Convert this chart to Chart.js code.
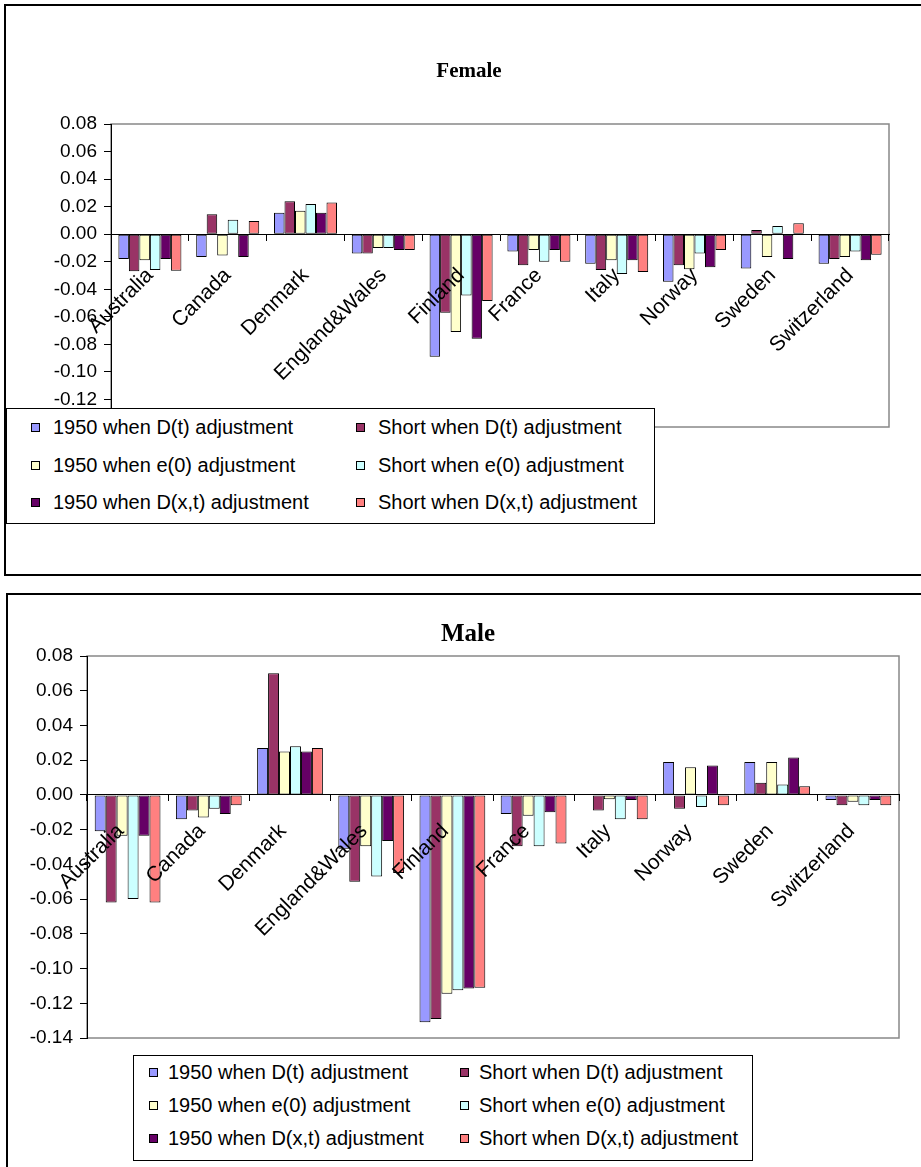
<!DOCTYPE html>
<html>
<head>
<meta charset="utf-8">
<script src="https://cdn.jsdelivr.net/npm/chart.js@4/dist/chart.umd.min.js"></script>
<style>
    body { margin: 0; background: #fff; width: 921px; height: 1167px; overflow: hidden; position: relative; font-family: "Liberation Sans", Arial, sans-serif; }
    .marco { position: absolute; border: 2px solid #000; box-sizing: border-box; }
    canvas { position: absolute; left: 0; }
    .titulo { position: absolute; transform: translate(-50%, -50%); font-family: "Liberation Serif", "Times New Roman", serif; font-weight: bold; line-height: 1; white-space: nowrap; color: #000; }
    .leyenda { position: absolute; border: 1px solid #000; background: #fff; box-sizing: border-box; font-size: 20px; color: #000; }
    .leyenda .item { position: absolute; white-space: nowrap; display: flex; align-items: center; }
    .leyenda .caja { display: inline-block; box-sizing: border-box; width: 9px; height: 9px; border: 1px solid #000; }
</style>
</head>
<body>
<div class="marco" style="left:4px; top:4px; width:1000px; height:572px;"></div>
<div class="marco" style="left:6px; top:593px; width:1000px; height:1000px;"></div>
<canvas id="grafica-female" width="921" height="580" style="top:0px;"></canvas>
<canvas id="grafica-male" width="921" height="577" style="top:590px;"></canvas>
<div class="titulo" id="titulo-female" style="left:469px; top:70px; font-size:21px;"></div>
<div class="titulo" id="titulo-male" style="left:468px; top:632px; font-size:25px;"></div>
<div class="leyenda" id="leyenda-female" style="left:6px; top:408px; width:649px; height:116px;"></div>
<div class="leyenda" id="leyenda-male" style="left:133px; top:1055px; width:620px; height:106px;"></div>
<script>
const countries = ["Australia", "Canada", "Denmark", "England&Wales", "Finland", "France", "Italy", "Norway", "Sweden", "Switzerland"];
const seriesNames = [
    "1950 when D(t) adjustment",
    "Short when D(t) adjustment",
    "1950 when e(0) adjustment",
    "Short when e(0) adjustment",
    "1950 when D(x,t) adjustment",
    "Short when D(x,t) adjustment",
];
const seriesColors = ["#9999FF", "#993366", "#FFFFCC", "#CCFFFF", "#660066", "#FF8080"];
const yMin = -0.14;
const yMax = 0.08;
const yStep = 0.02;

// Female
const female1950Dt = [-0.018, -0.0165, 0.0155, -0.014, -0.089, -0.0125, -0.0215, -0.0345, -0.025, -0.0215];
const femaleShortDt = [-0.027, 0.0145, 0.024, -0.014, -0.057, -0.0225, -0.026, -0.0225, 0.003, -0.018];
const female1950e0 = [-0.019, -0.0155, 0.017, -0.010, -0.071, -0.0115, -0.019, -0.0255, -0.0165, -0.0165];
const femaleShortE0 = [-0.026, 0.0105, 0.022, -0.010, -0.0445, -0.020, -0.029, -0.014, 0.006, -0.0125];
const female1950Dxt = [-0.018, -0.0165, 0.0155, -0.0115, -0.076, -0.0115, -0.019, -0.024, -0.018, -0.019];
const femaleShortDxt = [-0.0265, 0.0095, 0.023, -0.0115, -0.0485, -0.020, -0.0275, -0.0115, 0.008, -0.015];

// Male
const male1950Dt = [-0.021, -0.014, 0.027, -0.031, -0.131, -0.011, -0.0004, 0.019, 0.019, -0.003];
const maleShortDt = [-0.062, -0.009, 0.070, -0.050, -0.129, -0.0295, -0.009, -0.008, 0.007, -0.006];
const male1950e0 = [-0.0235, -0.013, 0.025, -0.0295, -0.1145, -0.012, -0.0025, 0.016, 0.019, -0.004];
const maleShortE0 = [-0.060, -0.008, 0.028, -0.047, -0.1125, -0.0295, -0.014, -0.007, 0.006, -0.006];
const male1950Dxt = [-0.0235, -0.011, 0.025, -0.0265, -0.1115, -0.010, -0.003, 0.017, 0.0215, -0.003];
const maleShortDxt = [-0.062, -0.006, 0.027, -0.045, -0.111, -0.028, -0.014, -0.006, 0.005, -0.006];

const fuente = "'Liberation Sans', Arial, sans-serif";

// gray frame of the plot area, under the axes
const bordeArea = {
    id: "bordeArea",
    beforeDraw(chart) {
        const { ctx, chartArea: a } = chart;
        ctx.save();
        ctx.strokeStyle = "#888888";
        ctx.lineWidth = 1.5;
        ctx.strokeRect(a.left, a.top, a.right - a.left, a.bottom - a.top);
        ctx.restore();
    },
};

function graficaBarras(id, titulo, series, cfg) {
    document.getElementById("titulo-" + id.split("-")[1]).textContent = titulo;

    const datasets = series.map((valores, i) => ({
        label: seriesNames[i],
        data: valores,
        backgroundColor: seriesColors[i],
        borderColor: "#000",
        borderWidth: 1,
        borderSkipped: false,
        categoryPercentage: 0.81,
        barPercentage: 1.0,
    }));

    const ctx = document.getElementById(id);
    const grafica = new Chart(ctx, {
        type: "bar",
        data: { labels: countries, datasets: datasets },
        plugins: [bordeArea],
        options: {
            responsive: false,
            animation: false,
            layout: { padding: cfg.padding },
            plugins: {
                legend: { display: false },
                tooltip: { enabled: false },
                title: { display: false },
            },
            scales: {
                x: {
                    position: { y: 0 },
                    grid: { drawOnChartArea: false, color: "#000", tickLength: 6 },
                    border: { color: "#000", width: 1 },
                    ticks: {
                        z: 1, // category names sit over the bars
                        color: "#000",
                        font: { family: fuente, size: 21 },
                        minRotation: 45,
                        maxRotation: 45,
                        autoSkip: false,
                        padding: cfg.xPadding,
                        labelOffset: cfg.xOffset,
                    },
                },
                y: {
                    min: yMin,
                    max: yMax,
                    grid: { drawOnChartArea: false, color: "#000", tickLength: 7 },
                    border: { color: "#000", width: 1 },
                    ticks: {
                        stepSize: yStep,
                        color: "#000",
                        font: { family: fuente, size: 19 },
                        padding: 7,
                        callback: (v) => Number(v).toFixed(2),
                    },
                    afterFit(scale) {
                        scale.width = cfg.ejeAncho;
                    },
                },
            },
        },
    });

    return grafica;
}

function leyenda(id, cfg) {
    const caja = document.getElementById(id);
    seriesNames.forEach((nombre, i) => {
        const fila = Math.floor(i / 2);
        const col = i % 2;
        const item = document.createElement("div");
        item.className = "item";
        item.style.left = (col === 0 ? cfg.col1 : cfg.col2) + "px";
        item.style.top = (cfg.top + fila * cfg.filaAlto) + "px";
        item.style.height = cfg.filaAlto + "px";
        const muestra = document.createElement("span");
        muestra.className = "caja";
        muestra.style.background = seriesColors[i];
        muestra.style.marginRight = (cfg.hueco - 9) + "px";
        const texto = document.createElement("span");
        texto.textContent = nombre;
        item.appendChild(muestra);
        item.appendChild(texto);
        caja.appendChild(item);
    });
}

graficaBarras("grafica-female", "Female",
    [female1950Dt, femaleShortDt, female1950e0, femaleShortE0, female1950Dxt, femaleShortDxt],
    {
        padding: { left: 11, right: 32, top: 124, bottom: 153 },
        ejeAncho: 100,
        xPadding: 23,
        xOffset: 0,
    });

graficaBarras("grafica-male", "Male",
    [male1950Dt, maleShortDt, male1950e0, maleShortE0, male1950Dxt, maleShortDxt],
    {
        padding: { left: 9, right: 22, top: 66, bottom: 129 },
        ejeAncho: 78,
        xPadding: 18,
        xOffset: -7,
    });

leyenda("leyenda-female", { col1: 24, col2: 349, top: 0, filaAlto: 37.5, hueco: 22 });
leyenda("leyenda-male", { col1: 15, col2: 326, top: 0, filaAlto: 33, hueco: 19 });
</script>
</body>
</html>
